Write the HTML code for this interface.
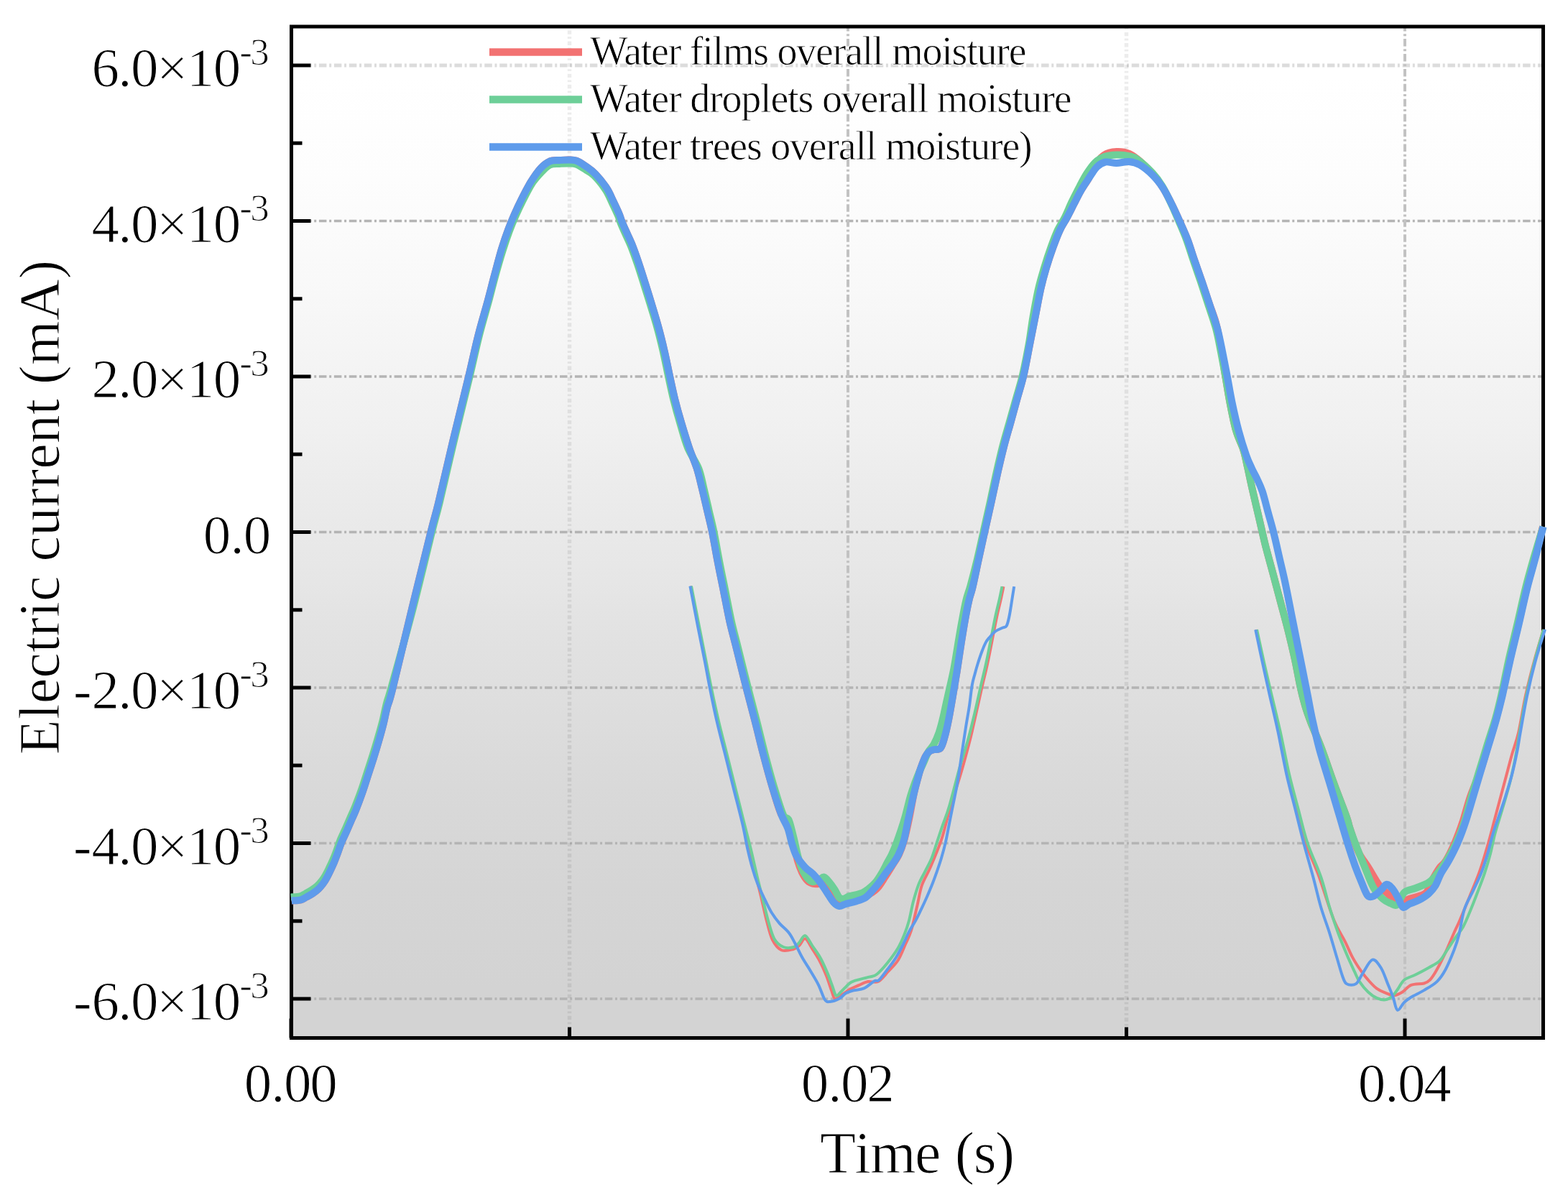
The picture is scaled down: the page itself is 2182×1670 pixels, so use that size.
<!DOCTYPE html><html><head><meta charset="utf-8"><style>html,body{margin:0;padding:0;background:#fff;overflow:hidden}svg{display:block}</style></head><body><svg width="2182" height="1670" viewBox="0 0 2182 1670">
<defs><linearGradient id="bg" x1="0" y1="0" x2="0" y2="1"><stop offset="0.00" stop-color="rgb(255,255,255)"/><stop offset="0.05" stop-color="rgb(255,255,255)"/><stop offset="0.10" stop-color="rgb(254,254,254)"/><stop offset="0.15" stop-color="rgb(253,253,253)"/><stop offset="0.20" stop-color="rgb(251,251,251)"/><stop offset="0.25" stop-color="rgb(249,249,249)"/><stop offset="0.30" stop-color="rgb(246,246,246)"/><stop offset="0.35" stop-color="rgb(243,243,243)"/><stop offset="0.40" stop-color="rgb(240,240,240)"/><stop offset="0.45" stop-color="rgb(236,236,236)"/><stop offset="0.50" stop-color="rgb(233,233,233)"/><stop offset="0.55" stop-color="rgb(230,230,230)"/><stop offset="0.60" stop-color="rgb(226,226,226)"/><stop offset="0.65" stop-color="rgb(223,223,223)"/><stop offset="0.70" stop-color="rgb(220,220,220)"/><stop offset="0.75" stop-color="rgb(217,217,217)"/><stop offset="0.80" stop-color="rgb(215,215,215)"/><stop offset="0.85" stop-color="rgb(213,213,213)"/><stop offset="0.90" stop-color="rgb(212,212,212)"/><stop offset="0.95" stop-color="rgb(211,211,211)"/><stop offset="1.00" stop-color="rgb(211,211,211)"/></linearGradient></defs>
<g>
<rect x="0" y="0" width="2182" height="1670" fill="#fff"/>
<rect x="405.5" y="37" width="1742.0" height="1407.5" fill="url(#bg)"/>
<g fill="none"><line x1="432.5" y1="91.0" x2="2147.5" y2="91.0" stroke="#dcdcdc" stroke-width="5" stroke-dasharray="10.5 3.7 3 3.74" stroke-dashoffset="9.5"/><line x1="432.5" y1="307.5" x2="2147.5" y2="307.5" stroke="#b4b4b4" stroke-width="3.4" stroke-dasharray="10.5 3.7 3 3.74" stroke-dashoffset="9.5"/><line x1="432.5" y1="524.0" x2="2147.5" y2="524.0" stroke="#b4b4b4" stroke-width="3.4" stroke-dasharray="10.5 3.7 3 3.74" stroke-dashoffset="9.5"/><line x1="432.5" y1="740.5" x2="2147.5" y2="740.5" stroke="#b4b4b4" stroke-width="3.4" stroke-dasharray="10.5 3.7 3 3.74" stroke-dashoffset="9.5"/><line x1="432.5" y1="957.0" x2="2147.5" y2="957.0" stroke="#b4b4b4" stroke-width="3.4" stroke-dasharray="10.5 3.7 3 3.74" stroke-dashoffset="9.5"/><line x1="432.5" y1="1173.5" x2="2147.5" y2="1173.5" stroke="#b4b4b4" stroke-width="3.4" stroke-dasharray="10.5 3.7 3 3.74" stroke-dashoffset="9.5"/><line x1="432.5" y1="1390.0" x2="2147.5" y2="1390.0" stroke="#b4b4b4" stroke-width="3.4" stroke-dasharray="10.5 3.7 3 3.74" stroke-dashoffset="9.5"/><line x1="1180.0" y1="37" x2="1180.0" y2="1417.5" stroke="#c2c2c2" stroke-width="4" stroke-dasharray="10.5 3.7 3 3.74" stroke-dashoffset="3.92"/><line x1="1955.0" y1="37" x2="1955.0" y2="1417.5" stroke="#c2c2c2" stroke-width="4" stroke-dasharray="10.5 3.7 3 3.74" stroke-dashoffset="3.92"/><line x1="792.5" y1="37" x2="792.5" y2="1429.5" stroke="#000" stroke-opacity="0.075" stroke-width="5.5" stroke-dasharray="2.8 3.6 5.4 3.27" stroke-dashoffset="0.97"/><line x1="1567.5" y1="37" x2="1567.5" y2="1429.5" stroke="#000" stroke-opacity="0.075" stroke-width="5.5" stroke-dasharray="2.8 3.6 5.4 3.27" stroke-dashoffset="13.55"/></g>
<rect x="405.5" y="37" width="1742.0" height="1407.5" fill="none" stroke="#000" stroke-width="5"/>
<g stroke="#000" stroke-width="5"><line x1="405.5" y1="91.0" x2="432.5" y2="91.0"/><line x1="405.5" y1="307.5" x2="432.5" y2="307.5"/><line x1="405.5" y1="524.0" x2="432.5" y2="524.0"/><line x1="405.5" y1="740.5" x2="432.5" y2="740.5"/><line x1="405.5" y1="957.0" x2="432.5" y2="957.0"/><line x1="405.5" y1="1173.5" x2="432.5" y2="1173.5"/><line x1="405.5" y1="1390.0" x2="432.5" y2="1390.0"/><line x1="405.5" y1="199.2" x2="420.5" y2="199.2"/><line x1="405.5" y1="415.8" x2="420.5" y2="415.8"/><line x1="405.5" y1="632.2" x2="420.5" y2="632.2"/><line x1="405.5" y1="848.8" x2="420.5" y2="848.8"/><line x1="405.5" y1="1065.2" x2="420.5" y2="1065.2"/><line x1="405.5" y1="1281.8" x2="420.5" y2="1281.8"/><line x1="405.0" y1="1444.5" x2="405.0" y2="1417.5"/><line x1="1180.0" y1="1444.5" x2="1180.0" y2="1417.5"/><line x1="1955.0" y1="1444.5" x2="1955.0" y2="1417.5"/><line x1="792.5" y1="1444.5" x2="792.5" y2="1429.5"/><line x1="1567.5" y1="1444.5" x2="1567.5" y2="1429.5"/></g>
<g fill="none" stroke-linejoin="round" stroke-linecap="butt">
<path d="M405.7,1253.5 C407.9,1253.3 415.3,1253.1 418.7,1252.3 C422.1,1251.5 423.5,1250.0 426.2,1248.5 C428.9,1247.0 432.2,1245.4 435.0,1243.5 C437.8,1241.6 440.7,1239.5 443.0,1237.3 C445.3,1235.1 447.1,1233.0 449.0,1230.5 C450.9,1228.0 452.6,1225.4 454.3,1222.3 C456.1,1219.2 457.7,1215.7 459.5,1212.0 C461.3,1208.3 463.2,1204.2 465.0,1200.0 C466.8,1195.8 468.3,1191.5 470.0,1187.0 C471.7,1182.5 472.9,1178.1 475.0,1173.0 C477.1,1167.9 480.2,1161.8 482.5,1156.5 C484.8,1151.2 486.9,1146.3 489.0,1141.5 C491.1,1136.7 492.6,1134.0 495.1,1127.7 C497.6,1121.4 501.3,1111.7 504.1,1103.7 C506.9,1095.7 509.3,1087.8 511.9,1079.8 C514.5,1071.8 517.2,1063.8 519.7,1055.8 C522.2,1047.8 524.6,1039.9 526.9,1031.9 C529.2,1023.9 531.5,1015.9 533.5,1007.9 C535.5,999.9 536.8,992.0 538.9,984.0 C541.0,976.0 540.2,983.0 546.0,960.0 C551.8,937.0 564.6,882.6 573.5,846.0 C582.4,809.4 593.4,764.8 599.5,740.5 C605.6,716.2 605.0,720.9 610.1,700.0 C615.2,679.1 623.0,644.4 630.0,615.0 C637.0,585.6 646.3,548.5 652.2,523.7 C658.1,498.9 661.2,483.5 665.6,466.2 C670.0,448.9 674.7,433.6 678.4,420.0 C682.1,406.4 684.4,396.7 687.7,384.4 C691.0,372.1 694.9,356.9 698.2,346.0 C701.5,335.1 704.4,327.0 707.4,319.0 C710.4,311.0 712.9,305.0 716.0,298.0 C719.1,291.0 722.1,284.6 725.9,277.0 C729.7,269.4 734.6,259.8 739.0,252.7 C743.4,245.6 747.8,239.0 752.2,234.3 C756.6,229.6 761.0,226.3 765.4,224.4 C769.8,222.5 774.2,223.3 778.6,223.0 C783.0,222.7 787.8,222.3 791.8,222.4 C795.8,222.5 798.3,222.2 802.3,223.7 C806.2,225.2 811.1,228.5 815.5,231.6 C819.9,234.7 823.8,237.1 828.6,242.2 C833.4,247.3 840.3,255.7 844.4,262.0 C848.5,268.3 850.5,274.0 853.4,280.0 C856.3,286.0 859.7,293.2 861.7,297.9 C863.7,302.6 863.7,304.1 865.3,308.1 C866.9,312.1 868.9,316.6 871.3,321.9 C873.6,327.2 876.5,332.6 879.4,339.8 C882.3,347.0 885.1,355.0 888.5,365.0 C891.9,375.0 895.1,385.2 899.7,400.0 C904.3,414.8 911.7,438.9 915.9,453.9 C920.1,468.9 922.2,478.1 924.9,489.8 C927.6,501.5 929.7,512.8 932.1,523.9 C934.5,535.0 936.6,545.4 939.3,556.2 C942.0,567.0 944.9,577.4 948.2,588.5 C951.5,599.6 955.4,612.4 959.0,623.0 C962.6,633.6 966.8,642.5 969.8,652.0 C972.8,661.5 974.6,670.3 977.0,680.0 C979.4,689.7 981.7,700.0 984.0,710.0 C986.3,720.0 988.6,728.5 991.0,740.3 C993.4,752.1 995.9,766.9 998.5,780.6 C1001.1,794.3 1004.1,808.5 1006.9,822.4 C1009.7,836.3 1012.5,851.7 1015.3,864.3 C1018.1,876.9 1020.9,886.7 1023.7,897.9 C1026.5,909.1 1029.5,921.3 1032.0,931.4 C1034.5,941.5 1035.7,946.2 1038.8,958.2 C1041.9,970.2 1046.6,988.1 1050.6,1003.6 C1054.6,1019.1 1058.6,1036.3 1062.6,1051.5 C1066.6,1066.7 1070.4,1081.0 1074.5,1094.6 C1078.6,1108.2 1083.2,1125.1 1087.0,1133.0 C1090.8,1140.9 1094.7,1138.2 1097.0,1142.0 C1099.3,1145.8 1099.7,1150.3 1101.0,1156.0 C1102.3,1161.7 1103.5,1169.0 1105.0,1176.0 C1106.5,1183.0 1108.2,1191.7 1110.0,1198.0 C1111.8,1204.3 1113.7,1209.3 1116.0,1214.0 C1118.3,1218.7 1121.3,1223.3 1124.0,1226.0 C1126.7,1228.7 1129.3,1229.3 1132.0,1230.0 C1134.7,1230.7 1137.3,1230.0 1140.0,1230.0 C1142.7,1230.0 1145.3,1228.3 1148.0,1230.0 C1150.7,1231.7 1153.2,1236.2 1156.0,1240.0 C1158.8,1243.8 1161.8,1250.2 1165.0,1253.0 C1168.2,1255.8 1170.8,1257.2 1175.0,1257.0 C1179.2,1256.8 1185.0,1253.7 1190.0,1252.0 C1195.0,1250.3 1200.0,1249.5 1205.0,1247.0 C1210.0,1244.5 1215.5,1241.5 1220.0,1237.0 C1224.5,1232.5 1228.3,1225.5 1232.0,1220.0 C1235.7,1214.5 1238.8,1209.2 1242.0,1204.0 C1245.2,1198.8 1248.3,1194.7 1251.0,1189.0 C1253.7,1183.3 1255.7,1178.2 1258.0,1170.0 C1260.3,1161.8 1262.7,1151.1 1265.0,1140.0 C1267.3,1128.9 1270.0,1112.7 1272.0,1103.4 C1274.0,1094.1 1275.5,1089.6 1277.0,1084.0 C1278.5,1078.4 1279.2,1075.2 1281.0,1070.0 C1282.8,1064.8 1285.7,1057.0 1287.7,1053.0 C1289.7,1049.0 1291.1,1047.6 1293.0,1046.0 C1294.9,1044.4 1296.6,1044.0 1299.2,1043.2 C1301.8,1042.4 1306.2,1044.2 1308.7,1041.3 C1311.2,1038.4 1312.6,1032.7 1314.5,1026.0 C1316.4,1019.3 1318.3,1010.7 1320.2,1001.1 C1322.1,991.5 1324.1,979.7 1326.0,968.5 C1327.9,957.3 1329.8,946.2 1331.7,934.1 C1333.6,922.0 1335.6,907.9 1337.5,895.8 C1339.4,883.7 1341.4,871.4 1343.2,861.3 C1345.0,851.2 1346.8,842.2 1348.5,835.0 C1350.2,827.8 1351.1,827.1 1353.3,818.0 C1355.5,808.9 1358.6,793.5 1361.4,780.5 C1364.2,767.5 1367.3,753.5 1370.3,740.0 C1373.3,726.5 1376.3,713.2 1379.3,699.6 C1382.3,686.0 1385.3,671.5 1388.3,658.3 C1391.3,645.1 1394.3,632.3 1397.3,620.6 C1400.3,608.9 1403.3,599.1 1406.3,588.3 C1409.3,577.5 1412.2,566.7 1415.2,555.9 C1418.2,545.1 1421.2,536.2 1424.2,523.6 C1427.2,511.0 1430.2,493.8 1432.9,480.0 C1435.6,466.2 1438.0,454.0 1440.6,441.0 C1443.2,428.0 1445.8,413.3 1448.3,402.0 C1450.8,390.7 1453.0,382.7 1455.9,373.0 C1458.8,363.3 1462.3,352.8 1465.5,344.0 C1468.7,335.2 1471.9,326.8 1475.1,320.0 C1478.3,313.2 1481.5,308.9 1484.7,303.0 C1487.9,297.1 1491.1,290.5 1494.3,284.3 C1497.5,278.1 1500.3,272.1 1503.8,266.0 C1507.3,259.9 1512.3,253.4 1515.3,247.9 C1518.3,242.4 1518.1,238.3 1521.6,233.0 C1525.0,227.7 1530.6,219.7 1536.0,216.0 C1541.4,212.3 1548.0,211.3 1554.0,211.0 C1560.0,210.7 1566.6,211.8 1571.9,214.0 C1577.2,216.2 1580.7,219.3 1586.0,224.0 C1591.3,228.7 1598.6,235.7 1604.0,242.0 C1609.4,248.3 1614.1,254.7 1618.6,261.9 C1623.1,269.1 1627.2,277.4 1631.1,285.2 C1635.0,293.0 1638.3,300.5 1641.9,308.6 C1645.5,316.7 1649.4,325.0 1652.7,333.7 C1656.0,342.4 1658.4,351.0 1661.7,360.6 C1665.0,370.2 1668.8,380.7 1672.4,391.2 C1676.0,401.7 1679.6,412.5 1683.2,423.5 C1686.8,434.5 1690.3,440.1 1694.0,457.0 C1697.7,473.9 1702.6,507.8 1705.5,525.0 C1708.4,542.2 1709.1,547.7 1711.5,560.0 C1713.9,572.3 1716.9,588.0 1720.0,599.0 C1723.1,610.0 1727.6,617.4 1730.3,625.9 C1733.0,634.4 1734.0,641.2 1736.0,650.0 C1738.0,658.8 1739.6,667.2 1742.2,678.6 C1744.8,690.0 1748.3,704.9 1751.4,718.1 C1754.5,731.3 1757.3,744.5 1760.6,757.7 C1763.9,770.9 1767.7,784.0 1771.2,797.2 C1774.7,810.4 1778.2,823.5 1781.7,836.7 C1785.2,849.9 1788.9,863.1 1792.2,876.3 C1795.5,889.5 1798.6,902.6 1801.5,915.8 C1804.4,929.0 1807.0,944.4 1809.4,955.4 C1811.8,966.4 1813.6,973.4 1816.0,981.7 C1818.4,990.0 1820.2,995.0 1824.0,1005.0 C1827.8,1015.0 1833.7,1027.5 1839.0,1041.6 C1844.3,1055.7 1850.2,1073.5 1856.0,1089.5 C1861.8,1105.5 1870.3,1127.0 1874.0,1137.4 C1877.7,1147.8 1875.6,1144.1 1878.3,1152.0 C1881.0,1159.9 1885.7,1175.8 1890.0,1185.0 C1894.3,1194.2 1899.1,1199.1 1904.0,1207.0 C1908.9,1214.9 1915.0,1226.3 1919.6,1232.5 C1924.2,1238.7 1927.3,1239.8 1931.5,1244.0 C1935.7,1248.2 1940.1,1256.8 1945.0,1258.0 C1949.9,1259.2 1956.0,1252.8 1961.0,1251.0 C1966.0,1249.2 1971.0,1248.5 1975.0,1247.0 C1979.0,1245.5 1982.0,1245.7 1985.0,1242.0 C1988.0,1238.3 1990.0,1230.7 1993.0,1225.0 C1996.0,1219.3 1999.8,1212.6 2003.0,1208.0 C2006.2,1203.4 2008.6,1203.5 2012.2,1197.6 C2015.8,1191.7 2020.8,1181.4 2024.7,1172.4 C2028.6,1163.4 2031.9,1154.5 2035.5,1143.7 C2039.1,1132.9 2042.1,1119.8 2046.3,1107.8 C2050.5,1095.8 2056.3,1083.9 2060.5,1071.9 C2064.7,1059.9 2067.8,1047.9 2071.4,1035.9 C2075.0,1023.9 2079.0,1011.3 2082.1,1000.0 C2085.2,988.7 2086.9,982.1 2090.2,968.2 C2093.4,954.3 2097.8,933.1 2101.6,916.5 C2105.4,899.9 2109.3,884.9 2113.1,868.6 C2116.9,852.3 2120.8,834.1 2124.6,818.8 C2128.4,803.5 2132.4,790.9 2136.1,776.6 C2139.8,762.3 2145.2,740.3 2147.0,733.0" stroke="#F27272" stroke-width="10"/>
<path d="M404.7,1248.5 C406.9,1248.3 414.3,1248.1 417.7,1247.3 C421.1,1246.5 422.5,1245.0 425.2,1243.5 C427.9,1242.0 431.2,1240.4 434.0,1238.5 C436.8,1236.6 439.7,1234.5 442.0,1232.3 C444.3,1230.1 446.1,1228.0 448.0,1225.5 C449.9,1223.0 451.6,1220.4 453.3,1217.3 C455.1,1214.2 456.7,1210.7 458.5,1207.0 C460.3,1203.3 462.2,1199.2 464.0,1195.0 C465.8,1190.8 467.3,1186.5 469.0,1182.0 C470.7,1177.5 471.9,1173.1 474.0,1168.0 C476.1,1162.9 479.2,1156.8 481.5,1151.5 C483.8,1146.2 485.9,1141.3 488.0,1136.5 C490.1,1131.7 491.6,1129.0 494.1,1122.7 C496.6,1116.4 500.3,1106.7 503.1,1098.7 C505.9,1090.7 508.3,1082.8 510.9,1074.8 C513.5,1066.8 516.2,1058.8 518.7,1050.8 C521.2,1042.8 523.6,1034.9 525.9,1026.9 C528.2,1018.9 530.5,1010.9 532.5,1002.9 C534.5,994.9 535.8,987.0 537.9,979.0 C540.0,971.0 538.8,977.2 545.0,955.0 C551.2,932.8 565.7,881.8 575.0,846.0 C584.3,810.2 594.9,764.8 601.0,740.5 C607.1,716.2 606.5,720.9 611.6,700.0 C616.7,679.1 624.5,644.4 631.5,615.0 C638.5,585.6 647.8,548.5 653.7,523.7 C659.6,498.9 662.7,483.5 667.1,466.2 C671.5,448.9 676.2,433.6 679.9,420.0 C683.6,406.4 685.9,396.3 689.2,384.4 C692.5,372.5 696.4,359.0 699.7,348.5 C703.0,338.0 705.9,329.5 708.9,321.5 C711.9,313.5 714.4,307.5 717.5,300.5 C720.6,293.5 723.6,287.1 727.4,279.5 C731.2,271.9 736.1,261.9 740.5,255.2 C744.9,248.5 749.6,243.6 753.7,239.3 C757.9,235.0 761.2,231.3 765.4,229.4 C769.5,227.5 774.2,228.3 778.6,228.0 C783.0,227.7 787.8,227.3 791.8,227.4 C795.8,227.5 798.3,227.2 802.3,228.7 C806.2,230.2 811.4,233.9 815.5,236.6 C819.6,239.3 822.5,240.0 827.1,244.7 C831.7,249.3 838.8,258.2 842.9,264.5 C847.0,270.8 849.0,276.5 851.9,282.5 C854.8,288.5 858.2,295.7 860.2,300.4 C862.2,305.1 862.2,306.6 863.8,310.6 C865.4,314.6 867.4,319.1 869.8,324.4 C872.1,329.7 875.0,335.1 877.9,342.3 C880.8,349.5 883.6,357.5 887.0,367.5 C890.4,377.5 893.7,388.1 898.2,402.5 C902.7,416.9 909.8,439.3 913.9,453.9 C918.0,468.4 920.2,478.1 922.9,489.8 C925.6,501.5 927.7,512.8 930.1,523.9 C932.5,535.0 934.6,545.4 937.3,556.2 C940.0,567.0 942.9,577.4 946.2,588.5 C949.5,599.6 952.6,612.4 957.0,623.0 C961.4,633.6 968.5,642.5 972.3,652.0 C976.0,661.5 977.1,670.3 979.5,680.0 C981.9,689.7 984.2,700.0 986.5,710.0 C988.8,720.0 991.1,728.5 993.5,740.3 C995.9,752.1 998.4,766.9 1001.0,780.6 C1003.6,794.3 1006.6,808.5 1009.4,822.4 C1012.2,836.3 1015.0,851.7 1017.8,864.3 C1020.6,876.9 1023.4,886.7 1026.2,897.9 C1029.0,909.1 1032.0,921.3 1034.5,931.4 C1037.0,941.5 1038.2,946.2 1041.3,958.2 C1044.4,970.2 1049.1,988.1 1053.1,1003.6 C1057.1,1019.1 1061.1,1036.3 1065.1,1051.5 C1069.1,1066.7 1072.9,1081.0 1077.0,1094.6 C1081.1,1108.2 1086.2,1125.4 1089.5,1133.0 C1092.8,1140.6 1095.1,1136.8 1097.0,1140.0 C1098.9,1143.2 1099.7,1147.3 1101.0,1152.0 C1102.3,1156.7 1103.5,1161.7 1105.0,1168.0 C1106.5,1174.3 1108.3,1183.5 1110.0,1190.0 C1111.7,1196.5 1113.0,1202.0 1115.0,1207.0 C1117.0,1212.0 1119.5,1216.7 1122.0,1220.0 C1124.5,1223.3 1127.2,1226.2 1130.0,1227.0 C1132.8,1227.8 1136.2,1226.1 1139.0,1225.0 C1141.8,1223.9 1144.3,1220.1 1146.8,1220.6 C1149.3,1221.1 1151.8,1225.1 1154.2,1228.0 C1156.7,1230.9 1159.2,1234.5 1161.5,1238.0 C1163.8,1241.5 1165.8,1246.9 1167.9,1249.0 C1170.0,1251.1 1172.0,1251.1 1174.3,1250.8 C1176.6,1250.5 1179.0,1248.1 1181.7,1247.2 C1184.5,1246.3 1187.8,1246.1 1190.8,1245.3 C1193.8,1244.5 1197.2,1243.8 1200.0,1242.6 C1202.8,1241.4 1204.2,1240.4 1207.3,1238.0 C1210.3,1235.6 1214.9,1232.0 1218.3,1228.0 C1221.7,1224.0 1224.8,1218.8 1227.5,1214.2 C1230.2,1209.6 1232.5,1204.7 1234.8,1200.4 C1237.1,1196.1 1239.1,1193.1 1241.2,1188.5 C1243.3,1183.9 1245.5,1178.7 1247.6,1173.0 C1249.7,1167.3 1251.9,1160.9 1254.0,1154.6 C1256.1,1148.3 1257.8,1142.8 1260.0,1135.0 C1262.2,1127.2 1264.8,1115.5 1267.0,1108.0 C1269.2,1100.5 1271.0,1095.5 1273.0,1090.0 C1275.0,1084.5 1277.0,1079.7 1279.0,1075.0 C1281.0,1070.3 1282.8,1066.8 1285.0,1062.0 C1287.2,1057.2 1289.6,1050.3 1292.0,1046.0 C1294.4,1041.7 1297.1,1040.3 1299.5,1036.0 C1301.9,1031.7 1304.3,1026.3 1306.5,1020.0 C1308.7,1013.7 1310.7,1005.5 1312.5,998.0 C1314.3,990.5 1315.8,982.5 1317.5,975.0 C1319.2,967.5 1320.8,960.5 1322.5,953.0 C1324.2,945.5 1325.8,938.8 1327.5,930.0 C1329.2,921.2 1330.7,910.8 1332.5,900.0 C1334.3,889.2 1336.5,875.8 1338.5,865.0 C1340.5,854.2 1342.5,843.3 1344.5,835.0 C1346.5,826.7 1348.0,824.2 1350.5,815.0 C1353.0,805.8 1356.5,792.5 1359.5,780.0 C1362.5,767.5 1365.5,753.3 1368.5,740.0 C1371.5,726.7 1374.5,713.7 1377.5,700.0 C1380.5,686.3 1383.5,671.3 1386.5,658.0 C1389.5,644.7 1392.5,631.7 1395.5,620.0 C1398.5,608.3 1401.5,598.7 1404.5,588.0 C1407.5,577.3 1410.5,566.7 1413.5,556.0 C1416.5,545.3 1419.5,536.7 1422.5,524.0 C1425.5,511.3 1429.0,493.8 1431.5,480.0 C1434.0,466.2 1435.2,454.0 1437.5,441.0 C1439.8,428.0 1442.4,413.3 1445.0,402.0 C1447.6,390.7 1450.1,382.7 1453.0,373.0 C1455.9,363.3 1459.3,352.8 1462.5,344.0 C1465.7,335.2 1468.8,326.8 1472.0,320.0 C1475.2,313.2 1478.3,309.3 1481.5,303.0 C1484.7,296.7 1487.8,288.8 1491.0,282.0 C1494.2,275.2 1497.5,268.7 1501.0,262.0 C1504.5,255.3 1508.2,248.0 1512.0,242.0 C1515.8,236.0 1519.8,230.0 1524.0,226.0 C1528.2,222.0 1532.0,219.8 1537.0,218.0 C1542.0,216.2 1548.3,215.7 1554.0,215.5 C1559.7,215.3 1566.2,215.9 1571.0,217.0 C1575.8,218.1 1577.5,218.0 1583.0,222.0 C1588.5,226.0 1598.2,234.7 1604.0,241.0 C1609.8,247.3 1613.7,252.8 1618.0,260.0 C1622.3,267.2 1626.2,276.0 1630.0,284.0 C1633.8,292.0 1637.0,299.8 1640.5,308.0 C1644.0,316.2 1647.8,324.8 1651.0,333.5 C1654.2,342.2 1656.8,350.9 1660.0,360.5 C1663.2,370.1 1667.0,380.6 1670.5,391.0 C1674.0,401.4 1677.4,412.0 1681.0,423.0 C1684.6,434.0 1689.0,445.8 1692.0,457.0 C1695.0,468.2 1696.8,478.7 1699.0,490.0 C1701.2,501.3 1703.4,513.3 1705.5,525.0 C1707.6,536.7 1709.1,547.7 1711.5,560.0 C1713.9,572.3 1716.9,588.0 1720.0,599.0 C1723.1,610.0 1727.6,617.4 1730.3,625.9 C1733.0,634.4 1734.0,641.2 1736.0,650.0 C1738.0,658.8 1739.6,667.2 1742.2,678.6 C1744.8,690.0 1748.3,704.9 1751.4,718.1 C1754.5,731.3 1757.3,744.5 1760.6,757.7 C1763.9,770.9 1767.7,784.0 1771.2,797.2 C1774.7,810.4 1778.2,823.5 1781.7,836.7 C1785.2,849.9 1788.9,863.1 1792.2,876.3 C1795.5,889.5 1798.6,902.6 1801.5,915.8 C1804.4,929.0 1807.0,944.4 1809.4,955.4 C1811.8,966.4 1813.6,973.4 1816.0,981.7 C1818.4,990.0 1820.2,995.0 1824.0,1005.0 C1827.8,1015.0 1833.7,1027.5 1839.0,1041.6 C1844.3,1055.7 1850.2,1073.5 1856.0,1089.5 C1861.8,1105.5 1870.3,1127.0 1874.0,1137.4 C1877.7,1147.8 1876.0,1145.3 1878.3,1152.0 C1880.5,1158.7 1884.1,1168.7 1887.5,1177.5 C1890.9,1186.3 1894.5,1195.4 1898.5,1205.0 C1902.5,1214.6 1907.0,1227.6 1911.3,1235.2 C1915.6,1242.8 1920.2,1247.1 1924.2,1250.8 C1928.2,1254.5 1931.9,1255.8 1935.2,1257.2 C1938.5,1258.6 1941.1,1261.6 1944.3,1259.0 C1947.5,1256.4 1950.1,1245.5 1954.4,1241.7 C1958.7,1237.9 1964.3,1238.3 1970.0,1236.0 C1975.7,1233.7 1983.5,1231.2 1988.3,1228.0 C1993.1,1224.8 1995.2,1221.6 1999.0,1217.0 C2002.8,1212.4 2006.9,1207.2 2011.2,1200.4 C2015.5,1193.6 2020.7,1185.1 2025.0,1176.0 C2029.3,1166.9 2033.2,1157.5 2037.0,1146.0 C2040.8,1134.5 2044.3,1119.5 2048.0,1107.0 C2051.7,1094.5 2055.3,1083.0 2059.0,1071.0 C2062.7,1059.0 2066.3,1046.8 2070.0,1035.0 C2073.7,1023.2 2077.8,1011.2 2081.0,1000.0 C2084.2,988.8 2085.8,982.0 2089.0,968.0 C2092.2,954.0 2096.2,932.7 2100.0,916.0 C2103.8,899.3 2107.7,884.3 2111.5,868.0 C2115.3,851.7 2119.2,833.3 2123.0,818.0 C2126.8,802.7 2130.4,790.2 2134.5,776.0 C2138.6,761.8 2145.3,740.2 2147.5,733.0" stroke="#6DCF98" stroke-width="10"/>
<path d="M405.7,1253.5 C407.9,1253.3 415.3,1253.1 418.7,1252.3 C422.1,1251.5 423.5,1250.0 426.2,1248.5 C428.9,1247.0 432.2,1245.4 435.0,1243.5 C437.8,1241.6 440.7,1239.5 443.0,1237.3 C445.3,1235.1 447.1,1233.0 449.0,1230.5 C450.9,1228.0 452.6,1225.4 454.3,1222.3 C456.1,1219.2 457.7,1215.7 459.5,1212.0 C461.3,1208.3 463.2,1204.2 465.0,1200.0 C466.8,1195.8 468.3,1191.5 470.0,1187.0 C471.7,1182.5 472.9,1178.1 475.0,1173.0 C477.1,1167.9 480.2,1161.8 482.5,1156.5 C484.8,1151.2 486.9,1146.3 489.0,1141.5 C491.1,1136.7 492.6,1134.0 495.1,1127.7 C497.6,1121.4 501.3,1111.7 504.1,1103.7 C506.9,1095.7 509.3,1087.8 511.9,1079.8 C514.5,1071.8 517.2,1063.8 519.7,1055.8 C522.2,1047.8 524.6,1039.9 526.9,1031.9 C529.2,1023.9 531.5,1015.9 533.5,1007.9 C535.5,999.9 536.8,992.0 538.9,984.0 C541.0,976.0 540.2,983.0 546.0,960.0 C551.8,937.0 564.6,882.6 573.5,846.0 C582.4,809.4 593.4,764.8 599.5,740.5 C605.6,716.2 605.0,720.9 610.1,700.0 C615.2,679.1 623.0,644.4 630.0,615.0 C637.0,585.6 646.3,548.5 652.2,523.7 C658.1,498.9 661.2,483.5 665.6,466.2 C670.0,448.9 674.7,433.6 678.4,420.0 C682.1,406.4 684.4,396.7 687.7,384.4 C691.0,372.1 694.9,356.9 698.2,346.0 C701.5,335.1 704.4,327.0 707.4,319.0 C710.4,311.0 712.9,305.0 716.0,298.0 C719.1,291.0 722.1,284.6 725.9,277.0 C729.7,269.4 734.6,259.8 739.0,252.7 C743.4,245.6 747.8,239.0 752.2,234.3 C756.6,229.6 761.0,226.3 765.4,224.4 C769.8,222.5 774.2,223.3 778.6,223.0 C783.0,222.7 787.8,222.3 791.8,222.4 C795.8,222.5 798.3,222.2 802.3,223.7 C806.2,225.2 811.1,228.5 815.5,231.6 C819.9,234.7 823.8,237.1 828.6,242.2 C833.4,247.3 840.3,255.7 844.4,262.0 C848.5,268.3 850.5,274.0 853.4,280.0 C856.3,286.0 859.7,293.2 861.7,297.9 C863.7,302.6 863.7,304.1 865.3,308.1 C866.9,312.1 868.9,316.6 871.3,321.9 C873.6,327.2 876.5,332.6 879.4,339.8 C882.3,347.0 885.1,355.0 888.5,365.0 C891.9,375.0 895.1,385.2 899.7,400.0 C904.3,414.8 911.7,438.9 915.9,453.9 C920.1,468.9 922.2,478.1 924.9,489.8 C927.6,501.5 929.7,512.8 932.1,523.9 C934.5,535.0 936.6,545.4 939.3,556.2 C942.0,567.0 944.9,577.4 948.2,588.5 C951.5,599.6 955.4,612.4 959.0,623.0 C962.6,633.6 966.8,642.5 969.8,652.0 C972.8,661.5 974.6,670.3 977.0,680.0 C979.4,689.7 981.7,700.0 984.0,710.0 C986.3,720.0 988.6,728.5 991.0,740.3 C993.4,752.1 995.9,766.9 998.5,780.6 C1001.1,794.3 1004.1,808.5 1006.9,822.4 C1009.7,836.3 1012.5,851.7 1015.3,864.3 C1018.1,876.9 1020.9,886.7 1023.7,897.9 C1026.5,909.1 1029.5,921.3 1032.0,931.4 C1034.5,941.5 1035.7,946.2 1038.8,958.2 C1041.9,970.2 1046.6,988.1 1050.6,1003.6 C1054.6,1019.1 1058.6,1036.3 1062.6,1051.5 C1066.6,1066.7 1070.4,1081.0 1074.5,1094.6 C1078.6,1108.2 1083.3,1123.3 1087.0,1133.0 C1090.7,1142.7 1093.9,1146.2 1096.4,1153.0 C1098.9,1159.8 1100.0,1167.6 1102.0,1174.0 C1104.0,1180.4 1105.3,1185.7 1108.3,1191.2 C1111.3,1196.7 1116.4,1202.7 1120.2,1206.8 C1124.0,1210.9 1127.7,1212.5 1131.2,1216.0 C1134.7,1219.5 1138.1,1223.7 1141.3,1228.0 C1144.5,1232.3 1147.4,1237.1 1150.5,1241.7 C1153.6,1246.3 1156.8,1252.2 1159.7,1255.4 C1162.6,1258.6 1165.1,1260.6 1168.0,1261.0 C1170.9,1261.4 1173.2,1259.1 1177.0,1258.0 C1180.8,1256.9 1186.2,1256.0 1190.8,1254.5 C1195.4,1253.0 1200.8,1251.5 1204.6,1249.0 C1208.4,1246.5 1210.7,1243.2 1213.7,1239.8 C1216.8,1236.4 1219.9,1232.8 1222.9,1228.8 C1226.0,1224.8 1229.0,1220.1 1232.0,1216.0 C1235.0,1211.9 1238.1,1208.4 1241.2,1204.0 C1244.3,1199.6 1247.7,1195.1 1250.4,1189.4 C1253.2,1183.7 1255.4,1178.2 1257.7,1170.0 C1260.0,1161.8 1261.6,1151.1 1264.0,1140.0 C1266.4,1128.9 1269.8,1112.7 1272.0,1103.4 C1274.2,1094.1 1275.5,1089.6 1277.0,1084.0 C1278.5,1078.4 1279.2,1075.2 1281.0,1070.0 C1282.8,1064.8 1285.7,1057.0 1287.7,1053.0 C1289.7,1049.0 1291.1,1047.6 1293.0,1046.0 C1294.9,1044.4 1296.6,1044.0 1299.2,1043.2 C1301.8,1042.4 1306.2,1044.2 1308.7,1041.3 C1311.2,1038.4 1312.6,1032.7 1314.5,1026.0 C1316.4,1019.3 1318.3,1010.7 1320.2,1001.1 C1322.1,991.5 1324.1,979.7 1326.0,968.5 C1327.9,957.3 1329.8,946.2 1331.7,934.1 C1333.6,922.0 1335.6,907.9 1337.5,895.8 C1339.4,883.7 1341.4,871.4 1343.2,861.3 C1345.0,851.2 1346.8,842.2 1348.5,835.0 C1350.2,827.8 1351.1,827.1 1353.3,818.0 C1355.5,808.9 1358.6,793.5 1361.4,780.5 C1364.2,767.5 1367.3,753.5 1370.3,740.0 C1373.3,726.5 1376.3,713.2 1379.3,699.6 C1382.3,686.0 1385.3,671.5 1388.3,658.3 C1391.3,645.1 1394.3,632.3 1397.3,620.6 C1400.3,608.9 1403.3,599.1 1406.3,588.3 C1409.3,577.5 1412.2,566.7 1415.2,555.9 C1418.2,545.1 1421.2,536.2 1424.2,523.6 C1427.2,511.0 1430.2,493.8 1432.9,480.0 C1435.6,466.2 1438.0,454.0 1440.6,441.0 C1443.2,428.0 1445.8,413.3 1448.3,402.0 C1450.8,390.7 1453.0,382.7 1455.9,373.0 C1458.8,363.3 1462.3,352.8 1465.5,344.0 C1468.7,335.2 1471.9,326.8 1475.1,320.0 C1478.3,313.2 1481.5,308.9 1484.7,303.0 C1487.9,297.1 1491.1,290.5 1494.3,284.3 C1497.5,278.1 1500.3,272.1 1503.8,266.0 C1507.3,259.9 1511.5,253.6 1515.3,247.9 C1519.1,242.2 1523.0,235.7 1526.8,232.0 C1530.6,228.3 1533.8,226.3 1538.3,225.5 C1542.8,224.7 1548.2,227.1 1553.7,227.0 C1559.2,226.9 1565.6,224.6 1571.0,225.0 C1576.4,225.4 1580.7,226.3 1586.2,229.5 C1591.7,232.7 1598.8,238.5 1604.2,243.9 C1609.6,249.3 1614.1,255.0 1618.6,261.9 C1623.1,268.8 1627.2,277.4 1631.1,285.2 C1635.0,293.0 1638.3,300.5 1641.9,308.6 C1645.5,316.7 1649.4,325.0 1652.7,333.7 C1656.0,342.4 1658.4,351.0 1661.7,360.6 C1665.0,370.2 1668.8,380.7 1672.4,391.2 C1676.0,401.7 1679.6,412.5 1683.2,423.5 C1686.8,434.5 1691.0,445.9 1694.0,457.0 C1697.0,468.1 1698.9,478.7 1701.2,490.0 C1703.5,501.3 1705.8,513.3 1708.0,525.0 C1710.2,536.7 1711.9,547.6 1714.5,560.0 C1717.1,572.4 1720.4,587.2 1723.7,599.5 C1727.0,611.8 1731.2,625.0 1734.3,633.8 C1737.3,642.5 1739.6,646.7 1742.0,652.0 C1744.4,657.3 1746.3,660.1 1748.8,665.4 C1751.2,670.7 1754.1,676.0 1756.7,683.9 C1759.3,691.8 1762.0,703.2 1764.6,712.9 C1767.2,722.6 1769.9,731.4 1772.5,741.9 C1775.1,752.4 1777.8,764.7 1780.4,776.1 C1783.0,787.5 1785.7,798.1 1788.3,810.4 C1790.9,822.7 1793.6,836.7 1796.2,849.9 C1798.8,863.1 1801.5,876.3 1804.1,889.5 C1806.7,902.7 1809.4,915.8 1812.0,929.0 C1814.6,942.2 1817.6,956.7 1819.9,968.5 C1822.2,980.3 1823.3,987.8 1826.0,1000.0 C1828.7,1012.2 1831.8,1026.7 1835.8,1041.6 C1839.8,1056.5 1845.4,1073.5 1850.2,1089.5 C1855.0,1105.5 1861.5,1127.3 1864.5,1137.4 C1867.5,1147.5 1866.2,1143.3 1868.2,1150.0 C1870.2,1156.7 1873.6,1168.3 1876.5,1177.5 C1879.4,1186.7 1882.7,1196.6 1885.7,1205.0 C1888.8,1213.4 1891.9,1221.1 1894.8,1228.0 C1897.7,1234.9 1900.3,1243.0 1903.1,1246.2 C1905.8,1249.4 1908.1,1248.6 1911.3,1247.2 C1914.5,1245.8 1919.2,1240.8 1922.3,1238.0 C1925.4,1235.2 1927.1,1230.9 1929.7,1230.7 C1932.3,1230.5 1935.3,1234.0 1937.9,1237.0 C1940.5,1240.0 1942.8,1244.7 1945.2,1249.0 C1947.7,1253.3 1950.0,1261.2 1952.6,1262.7 C1955.2,1264.2 1957.1,1259.9 1960.8,1258.2 C1964.5,1256.5 1970.0,1255.2 1974.6,1252.7 C1979.2,1250.2 1984.5,1246.9 1988.3,1243.5 C1992.1,1240.1 1994.7,1237.1 1997.5,1232.5 C2000.3,1227.9 2001.9,1221.8 2005.0,1216.0 C2008.1,1210.2 2012.2,1204.9 2016.2,1197.6 C2020.2,1190.3 2024.8,1181.4 2028.7,1172.4 C2032.6,1163.4 2035.9,1154.5 2039.5,1143.7 C2043.1,1132.9 2046.7,1119.8 2050.3,1107.8 C2053.9,1095.8 2057.4,1083.9 2061.0,1071.9 C2064.6,1059.9 2068.3,1047.9 2071.9,1035.9 C2075.5,1023.9 2079.5,1011.3 2082.6,1000.0 C2085.7,988.7 2087.4,982.1 2090.7,968.2 C2093.9,954.3 2098.3,933.1 2102.1,916.5 C2105.9,899.9 2109.8,884.9 2113.6,868.6 C2117.4,852.3 2121.3,834.1 2125.1,818.8 C2128.9,803.5 2132.9,790.9 2136.6,776.6 C2140.3,762.3 2145.7,740.3 2147.5,733.0" stroke="#5E9BEB" stroke-width="10"/>
<path d="M961.0,815.6 C962.8,825.0 968.6,854.5 972.0,871.9 C975.4,889.3 978.7,905.4 981.5,919.8 C984.3,934.1 986.1,944.0 989.0,958.0 C991.9,972.0 995.3,988.0 999.0,1003.6 C1002.7,1019.2 1007.0,1035.5 1011.0,1051.5 C1015.0,1067.5 1019.0,1083.4 1023.0,1099.4 C1027.0,1115.4 1031.7,1133.9 1035.0,1147.3 C1038.3,1160.7 1040.0,1167.4 1043.0,1180.0 C1046.0,1192.6 1050.2,1211.0 1053.0,1223.0 C1055.8,1235.0 1057.7,1242.2 1060.0,1252.0 C1062.3,1261.8 1064.5,1272.7 1067.0,1282.0 C1069.5,1291.3 1071.6,1301.3 1075.0,1308.0 C1078.4,1314.7 1082.7,1320.0 1087.5,1322.2 C1092.3,1324.4 1099.9,1322.0 1104.0,1321.0 C1108.1,1320.0 1109.2,1318.4 1112.0,1316.0 C1114.8,1313.6 1117.5,1305.7 1120.5,1306.4 C1123.5,1307.1 1126.6,1314.7 1130.0,1320.0 C1133.4,1325.3 1137.7,1331.7 1141.0,1338.0 C1144.3,1344.3 1147.3,1351.3 1150.0,1358.0 C1152.7,1364.7 1155.0,1372.7 1157.0,1378.0 C1159.0,1383.3 1159.5,1388.8 1162.0,1389.8 C1164.5,1390.8 1168.3,1386.3 1172.0,1384.0 C1175.7,1381.7 1180.1,1378.2 1184.0,1376.0 C1187.9,1373.8 1191.2,1372.8 1195.2,1371.1 C1199.2,1369.4 1203.5,1366.8 1208.0,1366.0 C1212.5,1365.2 1217.3,1368.3 1222.0,1366.0 C1226.7,1363.7 1231.3,1357.0 1236.0,1352.0 C1240.7,1347.0 1245.9,1342.3 1249.9,1336.0 C1253.9,1329.7 1257.0,1320.8 1260.0,1314.0 C1263.0,1307.2 1265.3,1303.7 1268.0,1295.0 C1270.7,1286.3 1273.5,1272.5 1276.0,1262.0 C1278.5,1251.5 1279.7,1241.4 1282.8,1232.2 C1285.9,1223.0 1290.3,1217.3 1294.8,1206.8 C1299.3,1196.3 1305.9,1180.5 1309.8,1169.4 C1313.7,1158.3 1315.3,1149.6 1318.0,1140.0 C1320.7,1130.4 1323.0,1122.0 1326.0,1112.0 C1329.0,1102.0 1333.1,1089.5 1336.0,1080.0 C1338.9,1070.5 1340.7,1063.9 1343.2,1054.7 C1345.7,1045.5 1348.4,1035.5 1351.0,1025.0 C1353.6,1014.5 1356.0,1002.8 1358.6,991.5 C1361.1,980.2 1363.8,968.3 1366.3,957.1 C1368.8,945.9 1371.4,936.3 1373.9,924.5 C1376.5,912.7 1379.4,897.4 1381.6,886.2 C1383.8,875.0 1385.4,866.4 1387.3,857.5 C1389.2,848.6 1391.6,839.5 1393.1,832.6 C1394.6,825.7 1395.9,819.0 1396.5,816.3" stroke="#F27272" stroke-width="4"/>
<path d="M1748.0,876.3 C1749.7,883.9 1754.7,907.1 1758.0,921.9 C1761.3,936.7 1764.3,949.0 1768.0,965.0 C1771.7,981.0 1776.0,999.0 1780.0,1017.7 C1784.0,1036.5 1787.9,1059.5 1792.0,1077.5 C1796.1,1095.5 1800.3,1109.4 1804.5,1125.4 C1808.7,1141.4 1811.8,1157.6 1817.0,1173.4 C1822.2,1189.2 1829.1,1202.2 1835.6,1220.0 C1842.1,1237.8 1850.0,1264.9 1856.0,1279.9 C1862.0,1294.9 1867.1,1301.0 1871.5,1309.8 C1875.9,1318.6 1878.5,1325.6 1882.3,1332.6 C1886.1,1339.6 1890.7,1346.5 1894.3,1351.7 C1897.9,1356.9 1900.2,1359.7 1903.8,1363.7 C1907.4,1367.7 1911.8,1372.7 1915.8,1375.7 C1919.8,1378.7 1923.8,1380.1 1927.8,1381.7 C1931.8,1383.3 1935.8,1385.5 1939.8,1385.3 C1943.8,1385.1 1947.7,1382.9 1951.7,1380.5 C1955.7,1378.1 1958.7,1372.9 1963.7,1370.9 C1968.7,1368.9 1977.3,1369.7 1981.7,1368.5 C1986.1,1367.3 1987.0,1366.9 1990.0,1363.7 C1993.0,1360.5 1996.0,1355.7 1999.6,1349.3 C2003.2,1342.9 2007.6,1334.0 2011.6,1325.4 C2015.6,1316.8 2020.4,1305.0 2023.6,1297.8 C2026.8,1290.6 2027.2,1290.6 2030.8,1282.3 C2034.4,1274.0 2040.2,1259.6 2045.0,1247.9 C2049.8,1236.2 2054.8,1224.9 2059.3,1212.0 C2063.8,1199.1 2068.5,1182.6 2071.9,1170.6 C2075.3,1158.6 2077.3,1150.1 2080.0,1140.0 C2082.7,1129.9 2085.3,1120.0 2088.0,1110.0 C2090.7,1100.0 2093.3,1090.0 2096.0,1080.0 C2098.7,1070.0 2101.2,1060.0 2104.0,1050.0 C2106.8,1040.0 2109.8,1033.7 2113.0,1020.0 C2116.2,1006.3 2119.3,984.7 2123.0,968.0 C2126.7,951.3 2130.8,935.3 2135.0,920.0 C2139.2,904.7 2145.8,883.3 2148.0,876.0" stroke="#F27272" stroke-width="4"/>
<path d="M962.0,815.6 C963.8,825.0 969.6,854.5 973.0,871.9 C976.4,889.3 979.7,905.4 982.5,919.8 C985.3,934.1 987.1,944.0 990.0,958.0 C992.9,972.0 996.3,988.0 1000.0,1003.6 C1003.7,1019.2 1008.0,1035.5 1012.0,1051.5 C1016.0,1067.5 1020.0,1083.4 1024.0,1099.4 C1028.0,1115.4 1032.6,1133.9 1036.0,1147.3 C1039.4,1160.7 1041.3,1167.4 1044.4,1180.0 C1047.5,1192.6 1051.5,1211.0 1054.4,1223.0 C1057.3,1235.0 1059.2,1242.2 1061.6,1251.8 C1064.0,1261.4 1066.2,1271.5 1068.8,1280.6 C1071.4,1289.7 1073.8,1300.2 1077.4,1306.4 C1081.0,1312.6 1085.8,1316.1 1090.3,1318.0 C1094.8,1319.9 1101.1,1319.0 1104.7,1318.0 C1108.3,1317.0 1109.3,1314.9 1111.9,1312.2 C1114.5,1309.5 1117.4,1301.4 1120.5,1302.1 C1123.6,1302.8 1127.0,1311.2 1130.6,1316.5 C1134.2,1321.8 1138.7,1327.7 1142.0,1333.7 C1145.3,1339.7 1148.0,1346.2 1150.7,1352.4 C1153.4,1358.6 1155.8,1365.6 1157.9,1371.1 C1160.1,1376.6 1161.4,1384.1 1163.6,1385.5 C1165.8,1386.9 1167.9,1382.3 1170.8,1379.7 C1173.7,1377.1 1178.0,1372.1 1180.9,1369.7 C1183.8,1367.3 1183.2,1367.0 1188.0,1365.3 C1192.8,1363.6 1204.3,1361.1 1209.6,1359.6 C1214.9,1358.0 1215.8,1359.3 1220.0,1356.0 C1224.2,1352.7 1230.0,1346.2 1235.0,1340.0 C1240.0,1333.8 1245.9,1325.7 1249.9,1319.0 C1253.9,1312.3 1256.4,1305.8 1258.9,1299.6 C1261.4,1293.4 1262.9,1289.1 1264.9,1281.6 C1266.9,1274.1 1268.7,1263.2 1270.9,1254.7 C1273.2,1246.2 1275.7,1237.7 1278.4,1230.7 C1281.1,1223.7 1284.3,1218.8 1287.3,1212.8 C1290.3,1206.8 1293.5,1201.5 1296.3,1194.8 C1299.0,1188.1 1301.3,1179.9 1303.8,1172.4 C1306.3,1164.9 1308.4,1158.3 1311.3,1149.9 C1314.2,1141.5 1317.0,1135.6 1321.0,1122.0 C1325.0,1108.4 1331.2,1083.5 1335.5,1068.1 C1339.8,1052.7 1343.5,1042.6 1347.0,1029.8 C1350.5,1017.0 1353.7,1003.6 1356.6,991.5 C1359.5,979.4 1361.8,968.3 1364.3,957.1 C1366.8,945.9 1369.4,936.3 1371.9,924.5 C1374.5,912.7 1377.4,897.4 1379.6,886.2 C1381.8,875.0 1383.4,866.4 1385.3,857.5 C1387.2,848.6 1389.6,839.5 1391.1,832.6 C1392.6,825.7 1393.9,819.0 1394.5,816.3" stroke="#6DCF98" stroke-width="4"/>
<path d="M1749.0,876.3 C1750.7,883.9 1755.7,907.1 1759.0,921.9 C1762.3,936.7 1765.2,949.0 1769.0,965.0 C1772.8,981.0 1777.3,999.0 1781.5,1017.7 C1785.7,1036.5 1789.8,1059.5 1794.0,1077.5 C1798.2,1095.5 1802.2,1109.4 1806.5,1125.4 C1810.8,1141.4 1814.2,1157.6 1819.5,1173.4 C1824.8,1189.2 1832.9,1205.2 1838.0,1220.0 C1843.1,1234.8 1846.0,1249.0 1850.0,1262.0 C1854.0,1275.0 1857.9,1286.8 1861.9,1297.8 C1865.9,1308.8 1870.1,1318.8 1873.9,1327.8 C1877.7,1336.8 1881.7,1345.3 1884.7,1351.7 C1887.7,1358.1 1888.7,1361.3 1891.9,1366.1 C1895.1,1370.9 1899.8,1376.7 1903.8,1380.5 C1907.8,1384.3 1911.8,1387.1 1915.8,1388.9 C1919.8,1390.7 1924.2,1391.7 1927.8,1391.3 C1931.4,1390.9 1934.4,1389.1 1937.4,1386.5 C1940.4,1383.9 1942.9,1379.5 1945.7,1375.7 C1948.5,1371.9 1950.1,1366.9 1954.1,1363.7 C1958.1,1360.5 1964.1,1359.3 1969.7,1356.5 C1975.3,1353.7 1982.1,1350.1 1987.7,1346.9 C1993.3,1343.7 1998.8,1341.6 2003.2,1337.4 C2007.6,1333.2 2010.2,1327.4 2014.0,1321.8 C2017.8,1316.2 2022.3,1309.1 2026.0,1303.8 C2029.7,1298.5 2032.5,1296.3 2036.0,1290.0 C2039.5,1283.7 2043.4,1273.8 2046.7,1265.8 C2050.0,1257.8 2052.8,1250.5 2056.0,1242.0 C2059.2,1233.5 2063.0,1224.0 2066.0,1215.0 C2069.0,1206.0 2071.7,1196.9 2074.0,1188.0 C2076.3,1179.1 2077.7,1170.6 2080.0,1161.7 C2082.3,1152.8 2085.3,1143.7 2088.0,1134.7 C2090.7,1125.7 2093.3,1117.4 2096.0,1107.8 C2098.7,1098.2 2101.6,1087.7 2104.0,1077.2 C2106.4,1066.7 2108.8,1054.4 2110.5,1044.9 C2112.2,1035.4 2112.2,1032.8 2114.5,1020.0 C2116.8,1007.2 2120.5,984.8 2124.0,968.2 C2127.5,951.6 2131.5,935.7 2135.5,920.3 C2139.5,904.9 2145.9,883.4 2148.0,876.0" stroke="#6DCF98" stroke-width="4"/>
<path d="M960.4,815.6 C962.2,825.0 967.7,854.5 971.1,871.9 C974.5,889.3 977.9,905.4 980.7,919.8 C983.5,934.1 985.1,944.0 987.9,958.0 C990.7,972.0 993.9,988.0 997.5,1003.6 C1001.1,1019.2 1005.5,1035.5 1009.5,1051.5 C1013.5,1067.5 1017.4,1083.4 1021.4,1099.4 C1025.4,1115.4 1030.3,1133.9 1033.4,1147.3 C1036.5,1160.7 1037.7,1169.8 1040.0,1180.0 C1042.3,1190.2 1044.8,1200.3 1047.2,1208.7 C1049.6,1217.1 1051.8,1223.6 1054.4,1230.3 C1057.0,1237.0 1059.9,1242.5 1063.0,1249.0 C1066.1,1255.5 1069.5,1263.0 1073.1,1269.0 C1076.7,1275.0 1080.5,1280.1 1084.6,1284.9 C1088.7,1289.7 1093.9,1293.2 1097.5,1297.8 C1101.1,1302.3 1103.0,1306.5 1106.1,1312.2 C1109.2,1318.0 1112.6,1325.8 1116.2,1332.3 C1119.8,1338.8 1123.9,1344.5 1127.7,1351.0 C1131.5,1357.5 1135.9,1364.4 1139.2,1371.1 C1142.5,1377.8 1145.2,1387.4 1147.8,1391.2 C1150.4,1395.0 1151.6,1394.2 1155.0,1394.0 C1158.4,1393.8 1164.4,1391.7 1168.0,1389.8 C1171.6,1387.9 1173.3,1384.5 1176.6,1382.6 C1179.9,1380.7 1183.7,1379.5 1188.0,1378.3 C1192.3,1377.1 1197.6,1377.6 1202.4,1375.4 C1207.2,1373.2 1213.4,1367.2 1216.8,1365.3 C1220.2,1363.4 1220.0,1366.7 1223.0,1364.0 C1226.0,1361.3 1231.0,1354.2 1235.0,1349.0 C1239.0,1343.8 1243.2,1338.5 1246.9,1332.5 C1250.6,1326.5 1254.4,1319.0 1257.4,1313.0 C1260.4,1307.0 1262.2,1301.8 1264.9,1296.6 C1267.7,1291.4 1270.9,1287.1 1273.9,1281.6 C1276.9,1276.1 1280.1,1269.3 1282.8,1263.6 C1285.5,1257.9 1287.8,1252.9 1290.3,1247.2 C1292.8,1241.5 1295.5,1234.9 1297.8,1229.2 C1300.0,1223.5 1301.8,1218.5 1303.8,1212.8 C1305.8,1207.1 1307.8,1201.5 1309.8,1194.8 C1311.8,1188.1 1314.0,1179.9 1315.8,1172.4 C1317.5,1164.9 1318.8,1157.4 1320.3,1149.9 C1321.8,1142.4 1322.6,1137.9 1324.7,1127.5 C1326.8,1117.1 1330.4,1100.4 1332.7,1087.3 C1335.0,1074.2 1336.5,1061.8 1338.4,1049.0 C1340.3,1036.2 1342.4,1021.9 1344.2,1010.7 C1346.0,999.5 1347.6,991.6 1349.0,982.0 C1350.4,972.4 1351.5,960.6 1352.8,953.2 C1354.1,945.9 1355.3,942.7 1356.6,937.9 C1357.9,933.1 1358.8,929.6 1360.4,924.5 C1362.0,919.4 1364.3,912.4 1366.2,907.3 C1368.1,902.2 1370.0,897.4 1371.9,893.9 C1373.8,890.4 1375.5,888.8 1377.7,886.2 C1379.9,883.6 1382.4,880.6 1385.3,878.5 C1388.2,876.4 1392.3,875.0 1394.9,873.7 C1397.5,872.4 1399.1,873.6 1400.7,870.9 C1402.3,868.2 1403.2,863.6 1404.5,857.5 C1405.8,851.4 1407.2,841.4 1408.3,834.5 C1409.4,827.6 1410.7,819.3 1411.2,816.3" stroke="#5E9BEB" stroke-width="4"/>
<path d="M1747.2,876.3 C1748.8,883.9 1753.6,907.1 1756.8,921.9 C1760.0,936.7 1762.7,949.0 1766.3,965.0 C1769.9,981.0 1774.3,999.0 1778.3,1017.7 C1782.3,1036.5 1786.3,1059.5 1790.3,1077.5 C1794.3,1095.5 1798.3,1109.4 1802.3,1125.4 C1806.3,1141.4 1810.1,1157.6 1814.3,1173.4 C1818.5,1189.2 1823.2,1205.2 1827.2,1220.0 C1831.2,1234.8 1834.2,1249.0 1838.0,1262.0 C1841.8,1275.0 1846.2,1285.8 1850.0,1297.8 C1853.8,1309.8 1857.7,1323.8 1860.7,1333.8 C1863.7,1343.8 1865.7,1351.8 1867.9,1357.7 C1870.1,1363.6 1870.7,1367.2 1873.9,1369.1 C1877.1,1371.0 1883.2,1371.6 1887.0,1369.1 C1890.8,1366.6 1892.8,1359.7 1896.6,1354.1 C1900.4,1348.5 1905.6,1336.8 1909.8,1335.6 C1914.0,1334.4 1918.2,1341.3 1921.8,1347.0 C1925.4,1352.7 1928.6,1362.9 1931.4,1369.7 C1934.2,1376.5 1936.4,1381.7 1938.6,1387.7 C1940.8,1393.7 1942.0,1404.4 1944.6,1405.6 C1947.2,1406.8 1950.9,1397.9 1954.1,1394.9 C1957.3,1391.9 1959.1,1390.5 1963.7,1387.7 C1968.3,1384.9 1975.7,1381.7 1981.7,1378.1 C1987.7,1374.5 1994.6,1370.9 1999.6,1366.1 C2004.6,1361.3 2007.6,1356.7 2011.6,1349.3 C2015.6,1341.9 2020.4,1330.0 2023.6,1321.8 C2026.8,1313.6 2028.2,1309.3 2030.5,1300.0 C2032.8,1290.7 2034.4,1276.0 2037.7,1265.8 C2041.0,1255.6 2046.4,1247.4 2050.3,1239.0 C2054.2,1230.6 2057.7,1224.0 2061.0,1215.6 C2064.3,1207.2 2067.3,1197.6 2070.0,1188.6 C2072.7,1179.6 2074.5,1170.7 2077.2,1161.7 C2079.9,1152.7 2083.2,1143.7 2086.2,1134.7 C2089.2,1125.7 2092.2,1117.4 2095.2,1107.8 C2098.2,1098.2 2101.5,1087.7 2104.2,1077.2 C2106.9,1066.7 2109.5,1054.4 2111.4,1044.9 C2113.3,1035.4 2113.3,1032.8 2115.6,1020.0 C2117.9,1007.2 2121.6,984.8 2125.1,968.2 C2128.6,951.6 2132.4,935.7 2136.6,920.3 C2140.8,904.9 2147.8,883.4 2150.0,876.0" stroke="#5E9BEB" stroke-width="4"/>
</g>
<line x1="681" y1="72.5" x2="810" y2="72.5" stroke="#F27272" stroke-width="10.5"/>
<text x="821" y="89.5" font-family="Liberation Serif, serif" font-size="56" textLength="607.5" lengthAdjust="spacing" fill="#000" stroke="#fff" stroke-width="0.8">Water films overall moisture</text>
<line x1="681" y1="138.5" x2="810" y2="138.5" stroke="#6DCF98" stroke-width="10.5"/>
<text x="821" y="155.5" font-family="Liberation Serif, serif" font-size="56" textLength="670.5" lengthAdjust="spacing" fill="#000" stroke="#fff" stroke-width="0.8">Water droplets overall moisture</text>
<line x1="681" y1="204.5" x2="810" y2="204.5" stroke="#5E9BEB" stroke-width="10.5"/>
<text x="821" y="221.5" font-family="Liberation Serif, serif" font-size="56" textLength="615.7" lengthAdjust="spacing" fill="#000" stroke="#fff" stroke-width="0.8">Water trees overall moisture)</text>
<text x="146.7 173.9 201.3 239.8 279.0 316.0" y="120.0" text-anchor="middle" font-family="Liberation Serif, serif" font-size="77" fill="#000" stroke="#fff" stroke-width="1.1">6.0×10</text>
<text x="342.0 361.4" y="90.0" text-anchor="middle" font-family="Liberation Serif, serif" font-size="53" fill="#000" stroke="#fff" stroke-width="1.1">-3</text>
<text x="146.7 173.9 201.3 239.8 279.0 316.0" y="336.5" text-anchor="middle" font-family="Liberation Serif, serif" font-size="77" fill="#000" stroke="#fff" stroke-width="1.1">4.0×10</text>
<text x="342.0 361.4" y="306.5" text-anchor="middle" font-family="Liberation Serif, serif" font-size="53" fill="#000" stroke="#fff" stroke-width="1.1">-3</text>
<text x="146.7 173.9 201.3 239.8 279.0 316.0" y="553.0" text-anchor="middle" font-family="Liberation Serif, serif" font-size="77" fill="#000" stroke="#fff" stroke-width="1.1">2.0×10</text>
<text x="342.0 361.4" y="523.0" text-anchor="middle" font-family="Liberation Serif, serif" font-size="53" fill="#000" stroke="#fff" stroke-width="1.1">-3</text>
<text x="114.9 146.7 173.9 201.3 239.8 279.0 316.0" y="986.0" text-anchor="middle" font-family="Liberation Serif, serif" font-size="77" fill="#000" stroke="#fff" stroke-width="1.1">-2.0×10</text>
<text x="342.0 361.4" y="956.0" text-anchor="middle" font-family="Liberation Serif, serif" font-size="53" fill="#000" stroke="#fff" stroke-width="1.1">-3</text>
<text x="114.9 146.7 173.9 201.3 239.8 279.0 316.0" y="1202.5" text-anchor="middle" font-family="Liberation Serif, serif" font-size="77" fill="#000" stroke="#fff" stroke-width="1.1">-4.0×10</text>
<text x="342.0 361.4" y="1172.5" text-anchor="middle" font-family="Liberation Serif, serif" font-size="53" fill="#000" stroke="#fff" stroke-width="1.1">-3</text>
<text x="114.9 146.7 173.9 201.3 239.8 279.0 316.0" y="1419.0" text-anchor="middle" font-family="Liberation Serif, serif" font-size="77" fill="#000" stroke="#fff" stroke-width="1.1">-6.0×10</text>
<text x="342.0 361.4" y="1389.0" text-anchor="middle" font-family="Liberation Serif, serif" font-size="53" fill="#000" stroke="#fff" stroke-width="1.1">-3</text>
<text x="302.0 330.0 357.9" y="769.5" text-anchor="middle" font-family="Liberation Serif, serif" font-size="77" fill="#000" stroke="#fff" stroke-width="1.1">0.0</text>
<text x="358.9 386.8 414.3 450.4" y="1533.0" text-anchor="middle" font-family="Liberation Serif, serif" font-size="77" fill="#000" stroke="#fff" stroke-width="1.1">0.00</text>
<text x="1133.9 1161.8 1189.3 1225.4" y="1533.0" text-anchor="middle" font-family="Liberation Serif, serif" font-size="77" fill="#000" stroke="#fff" stroke-width="1.1">0.02</text>
<text x="1908.9 1936.8 1964.3 2000.4" y="1533.0" text-anchor="middle" font-family="Liberation Serif, serif" font-size="77" fill="#000" stroke="#fff" stroke-width="1.1">0.04</text>
<text x="1166.0 1200.6 1243.0 1291.3 1316.0 1342.3 1370.8 1398.3" y="1632.0" text-anchor="middle" font-family="Liberation Serif, serif" font-size="82" fill="#000" stroke="#fff" stroke-width="1.1">Time (s)</text>
<text transform="translate(82,706) rotate(-90)" text-anchor="middle" font-family="Liberation Serif, serif" font-size="80" fill="#000" stroke="#fff" stroke-width="1.1">Electric current (mA)</text>
</g>
</svg></body></html>
